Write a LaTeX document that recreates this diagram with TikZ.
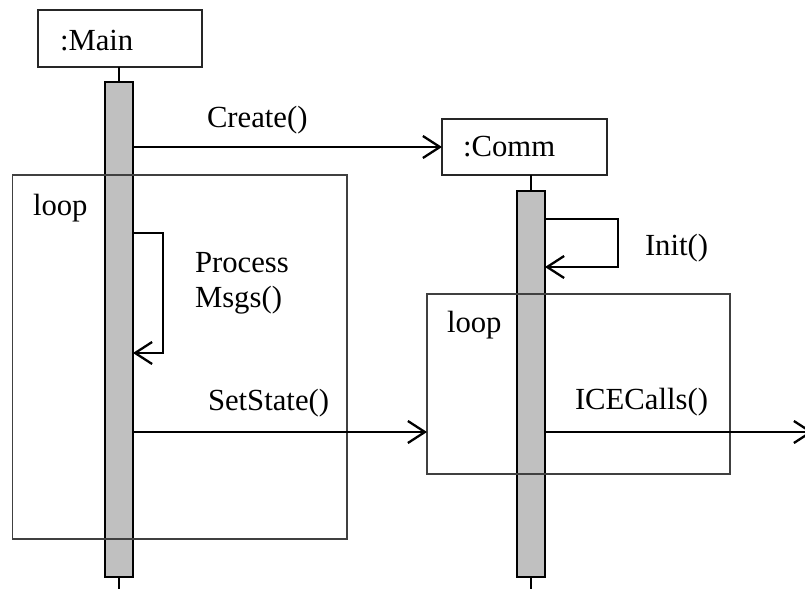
\documentclass[tikz,border=0pt]{standalone}
\usepackage{fontspec}
\setmainfont{Liberation Serif}
\usetikzlibrary{arrows.meta}
\definecolor{barfill}{HTML}{C0C0C0}
\definecolor{framegray}{HTML}{404040}
\begin{document}
\begin{tikzpicture}[x=1pt,y=-1pt,
  every node/.style={inner sep=0pt, outer sep=0pt},
  objbox/.style={draw=black!85, line width=1.3pt, fill=white},
  actbar/.style={draw=black, line width=2.8pt, fill=barfill},
  loopframe/.style={draw=framegray, line width=1.3pt},
  lifeline/.style={draw=black, line width=1.4pt},
  msg/.style={line width=2.3pt, -{Straight Barb[length=17pt,width=22pt]}},
  lbl/.style={anchor=base west, font=\fontsize{30.7}{36}\selectfont}]
\useasboundingbox (0,0) rectangle (805,589);
\clip (0,0) rectangle (805,589);

% participant heads
\node[objbox, minimum width=164pt, minimum height=57pt] (main) at (120,38.5) {};
\node[lbl] (mainlbl) at (60,50) {:Main};
\node[objbox, minimum width=165pt, minimum height=56pt] (comm) at (524.5,147) {};
\node[lbl] (commlbl) at (463,156) {:Comm};

% activation bars
\node[minimum width=28pt, minimum height=495pt] (mainbar) at (119,329.5) {};
\node[minimum width=28pt, minimum height=386pt] (commbar) at (531,384) {};
\coordinate (mainend) at (119,589);
\coordinate (commend) at (531,589);

% lifelines
\draw[lifeline] (main.south -| mainbar.north) -- (mainbar.north);
\draw[lifeline] (mainbar.south) -- (mainend);
\draw[lifeline] (comm.south -| commbar.north) -- (commbar.north);
\draw[lifeline] (commbar.south) -- (commend);

\path[actbar] (mainbar.north west) rectangle (mainbar.south east);
\path[actbar] (commbar.north west) rectangle (commbar.south east);

% combined fragments
\node[loopframe, minimum width=334.3pt, minimum height=364pt] (loop1) at (179.85,357) {};
\node[lbl] (loop1lbl) at (33,215) {loop};
\node[loopframe, minimum width=303pt, minimum height=180pt] (loop2) at (578.5,384) {};
\node[lbl] (loop2lbl) at (447,332) {loop};

% messages
\draw[msg] (mainbar.east |- comm.west) -- (comm.west);
\node[lbl] (createlbl) at (207,127) {Create()};

\coordinate (pm1) at (119,233);
\coordinate (pm2) at (119,353);
\draw[msg] (pm1 -| mainbar.east) -- (163,233) -- (163,353) -- (pm2 -| mainbar.east);
\node[lbl] (pmlbl1) at (195,272) {Process};
\node[lbl] (pmlbl2) at (195,307) {Msgs()};

\coordinate (in1) at (531,219);
\coordinate (in2) at (531,267);
\draw[msg] (in1 -| commbar.east) -- (618,219) -- (618,267) -- (in2 -| commbar.east);
\node[lbl] (initlbl) at (645,255) {Init()};

\coordinate (ss) at (119,432);
\draw[msg] (ss -| mainbar.east) -- (ss -| loop2.west);
\node[lbl] (sslbl) at (208,410) {SetState()};

\coordinate (ic) at (531,432);
\coordinate (icout) at (813,432);
\draw[msg] (ic -| commbar.east) -- (icout);
\node[lbl] (iclbl) at (575,409) {ICECalls()};
\end{tikzpicture}
\end{document}
